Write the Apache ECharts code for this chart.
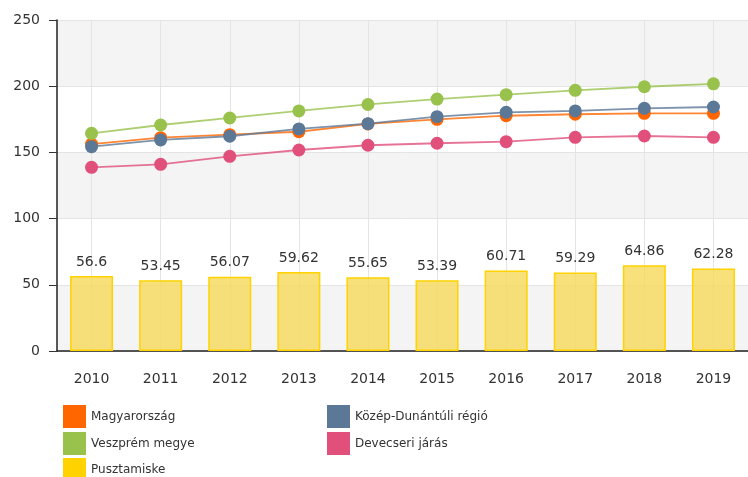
<!DOCTYPE html>
<html>
<head>
<meta charset="utf-8">
<script src="https://cdn.jsdelivr.net/npm/echarts@6/dist/echarts.min.js"></script>
<style>
  html, body { margin: 0; padding: 0; background: #fff; }
  #chart { width: 748px; height: 477px; }
</style>
</head>
<body>
<div id="chart"></div>
<script>
const years = ['2010', '2011', '2012', '2013', '2014', '2015', '2016', '2017', '2018', '2019']

const magyarorszag = [156.3, 161.1, 163.4, 165.6, 171.5, 175.0, 177.7, 178.8, 179.5, 179.5]
const veszprem = [164.4, 170.7, 176.0, 181.3, 186.2, 190.3, 193.6, 196.9, 199.6, 201.8]
const kozepDunantul = [154.3, 159.4, 162.2, 167.7, 171.7, 177.0, 180.3, 181.3, 183.3, 184.3]
const devecser = [138.7, 141.0, 147.0, 151.8, 155.4, 156.9, 158.1, 161.4, 162.4, 161.4]
const pusztamiske = [56.6, 53.45, 56.07, 59.62, 55.65, 53.39, 60.71, 59.29, 64.86, 62.28]

const font = 'DejaVu Sans, Verdana, sans-serif'

const chart = echarts.init(document.getElementById('chart'))

function lineSeries(name, data, color) {
  return {
    name: name,
    type: 'line',
    data: data,
    symbol: 'circle',
    symbolSize: 13,
    z: 3,
    itemStyle: { color: color },
    lineStyle: { color: color, width: 1.8, opacity: 0.8 }
  }
}

// one legend block per entry so they sit in two fixed columns
function legendItem(name, left, top, color) {
  return {
    left: left,
    top: top,
    padding: 0,
    itemWidth: 23,
    itemHeight: 23,
    icon: 'rect',
    textStyle: { color: '#333', fontSize: 12, fontFamily: font },
    data: [{ name: name, itemStyle: { color: color, borderWidth: 0, opacity: 1 } }]
  }
}

chart.setOption({
  animation: false,
  textStyle: { fontFamily: font },
  grid: { left: 57, top: 20, width: 696, height: 331 },
  legend: [
    legendItem('Magyarország', 63, 405, '#ff6600'),
    legendItem('Veszprém megye', 63, 432, '#99c24d'),
    legendItem('Pusztamiske', 63, 458, '#ffd200'),
    legendItem('Közép-Dunántúli régió', 327, 405, '#5c7897'),
    legendItem('Devecseri járás', 327, 432, '#e0507a')
  ],
  xAxis: {
    type: 'category',
    data: years,
    axisLine: { lineStyle: { color: '#222', width: 1.5 } },
    axisTick: { alignWithLabel: true, length: 7, lineStyle: { color: '#333' } },
    axisLabel: { color: '#333', fontSize: 14, margin: 21 },
    splitLine: { show: true, alignWithLabel: true, lineStyle: { color: '#e4e4e4' } }
  },
  yAxis: {
    type: 'value',
    min: 0,
    max: 250,
    interval: 50,
    axisLine: { show: true, lineStyle: { color: '#222', width: 1.5 } },
    axisTick: { show: true, length: 8, lineStyle: { color: '#333' } },
    axisLabel: { color: '#333', fontSize: 14, margin: 17 },
    splitLine: { lineStyle: { color: '#e4e4e4' } },
    splitArea: { show: true, areaStyle: { color: ['#f4f4f4', '#ffffff'] } }
  },
  series: [
    {
      name: 'Pusztamiske',
      type: 'bar',
      data: pusztamiske,
      barWidth: 43,
      z: 2,
      itemStyle: { color: 'rgba(246, 218, 90, 0.8)', borderColor: '#ffd200', borderWidth: 1.5 },
      label: { show: true, position: 'top', distance: 7, color: '#333', fontSize: 14 }
    },
    lineSeries('Magyarország', magyarorszag, '#ff6600'),
    lineSeries('Veszprém megye', veszprem, '#99c24d'),
    lineSeries('Közép-Dunántúli régió', kozepDunantul, '#5c7897'),
    lineSeries('Devecseri járás', devecser, '#e0507a')
  ]
})
</script>
</body>
</html>
